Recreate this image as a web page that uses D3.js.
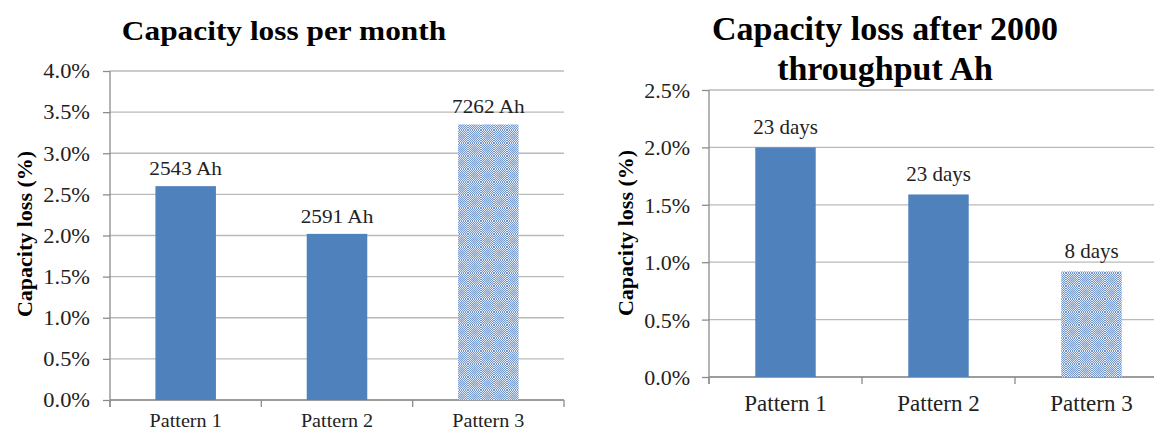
<!DOCTYPE html>
<html>
<head>
<meta charset="utf-8">
<script src="https://cdn.jsdelivr.net/npm/d3@7"></script>
<style>
  html, body { margin: 0; padding: 0; background: #fff; }
  svg { display: block; font-family: "Liberation Serif", "Times New Roman", serif; }
  svg text { font-family: "Liberation Serif", "Times New Roman", serif; }
</style>
</head>
<body>
<svg id="chart" width="1154" height="432"></svg>
<script>
// ---- Data ----
const categories = ["Pattern 1", "Pattern 2", "Pattern 3"];
const lossPerMonth = [2.60, 2.02, 3.35];          // %
const throughputLabels = ["2543 Ah", "2591 Ah", "7262 Ah"];
const lossAfter2000 = [2.00, 1.59, 0.92];          // %
const dayLabels = ["23 days", "23 days", "8 days"];
const leftTicks = [0, 0.5, 1.0, 1.5, 2.0, 2.5, 3.0, 3.5, 4.0];
const rightTicks = [0, 0.5, 1.0, 1.5, 2.0, 2.5];
const patternedIndex = [2];

const svg = d3.select("#chart");
const BLUE = "#4f81bd";

// pattern for third bar
const defs = svg.append("defs");
const chk = defs.append("pattern").attr("id", "chk").attr("width", 2).attr("height", 2)
  .attr("patternUnits", "userSpaceOnUse");
chk.append("rect").attr("width", 2).attr("height", 2).attr("fill", "#e2eaf5");
chk.append("rect").attr("width", 1).attr("height", 1).attr("fill", "#7396ca");
chk.append("rect").attr("x", 1).attr("y", 1).attr("width", 1).attr("height", 1).attr("fill", "#7396ca");
const dots = defs.append("pattern").attr("id", "dots").attr("width", 13).attr("height", 13)
  .attr("patternUnits", "userSpaceOnUse");
dots.append("rect").attr("width", 13).attr("height", 13).attr("fill", "url(#chk)");
dots.append("circle").attr("cx", 6.5).attr("cy", 6.5).attr("r", 3.2).attr("fill", "#9ab3db").attr("opacity", 0.6);

const clip = defs.append("clipPath").attr("id", "pageclip");
clip.append("rect").attr("width", 1154).attr("height", 432);

function drawChart(cfg) {
  const sx = cfg.stretch;
  const g = svg.append("g").attr("clip-path", "url(#pageclip)");
  const x = d3.scaleBand().domain(categories).range([cfg.x0, cfg.x1]).paddingInner(0).paddingOuter(0);
  const y = d3.scaleLinear().domain([0, d3.max(cfg.ticks)]).range([cfg.y0, cfg.y1]);

  // gridlines
  g.append("g").selectAll("line").data(cfg.ticks).join("line")
    .attr("x1", cfg.x0).attr("x2", cfg.x1)
    .attr("y1", d => y(d)).attr("y2", d => y(d))
    .attr("stroke", "#bababa").attr("stroke-width", 1.3);

  // y axis
  const yAxis = d3.axisLeft(y).tickValues(cfg.ticks).tickSize(cfg.tickLen).tickPadding(0)
    .tickFormat(d => d.toFixed(1) + "%");
  const ya = g.append("g").attr("transform", `translate(${cfg.x0},0)`).call(yAxis)
    .attr("font-family", null).attr("font-size", null);
  ya.select(".domain").attr("stroke", "#8c8c8c").attr("stroke-width", 1.3)
    .attr("d", `M0,${cfg.y1}V${cfg.y0 + cfg.tickLen}`);
  ya.selectAll(".tick line").attr("stroke", "#8c8c8c").attr("stroke-width", 1.3);
  ya.selectAll(".tick text").attr("fill", "#222").style("font-size", cfg.tickFont + "px")
    .attr("x", 0).attr("dy", "0.34em")
    .attr("transform", `translate(${cfg.labelRight - cfg.x0},0) scale(${sx},1)`);

  // x axis
  const xa = g.append("g");
  xa.append("line").attr("x1", cfg.x0).attr("x2", cfg.x1).attr("y1", cfg.y0).attr("y2", cfg.y0)
    .attr("stroke", "#8c8c8c").attr("stroke-width", 1.3);
  const bounds = categories.map(c => x(c)).concat([cfg.x1]);
  xa.selectAll("line.tk").data(bounds).join("line").attr("class", "tk")
    .attr("x1", d => d).attr("x2", d => d).attr("y1", cfg.y0).attr("y2", cfg.y0 + cfg.tickLen)
    .attr("stroke", "#8c8c8c").attr("stroke-width", 1.3);
  xa.selectAll("text").data(categories).join("text")
    .attr("transform", d => `translate(${x(d) + x.bandwidth() / 2},${cfg.catY}) scale(${sx},1)`)
    .attr("text-anchor", "middle").attr("fill", "#222")
    .style("font-size", cfg.catFont + "px").text(d => d);

  // bars
  const bw = x.bandwidth() * cfg.barFrac;
  g.append("g").selectAll("rect").data(cfg.values).join("rect")
    .attr("x", (d, i) => x(categories[i]) + (x.bandwidth() - bw) / 2)
    .attr("width", bw)
    .attr("y", d => y(d)).attr("height", d => cfg.y0 - y(d))
    .attr("fill", (d, i) => patternedIndex.includes(i) ? "url(#dots)" : BLUE);

  // data labels
  g.append("g").selectAll("text").data(cfg.values).join("text")
    .attr("transform", (d, i) => `translate(${x(categories[i]) + x.bandwidth() / 2},${y(d) - cfg.labelGap}) scale(${sx},1)`)
    .attr("text-anchor", "middle").attr("fill", "#222")
    .style("font-size", cfg.labelFont + "px")
    .text((d, i) => cfg.labels[i]);

  // y title
  g.append("text")
    .attr("transform", `translate(${cfg.yTitleX},${cfg.yTitleY}) rotate(-90)`)
    .attr("text-anchor", "middle").attr("fill", "#000")
    .style("font-size", cfg.yTitleFont + "px").style("font-weight", "bold")
    .text("Capacity loss (%)");

  // chart title
  cfg.title.forEach((line, i) => {
    g.append("text").attr("text-anchor", "middle").attr("fill", "#000")
      .style("font-size", cfg.titleFont + "px").style("font-weight", "bold")
      .attr("transform", `translate(${cfg.titleX},${cfg.titleY + i * cfg.titleLH}) scale(${sx},1)`)
      .text(line);
  });
}

drawChart({
  x0: 110, x1: 564, y0: 400, y1: 71, stretch: 1.12, tickLen: 7, labelRight: 90,
  ticks: leftTicks, values: lossPerMonth, labels: throughputLabels,
  barFrac: 0.4, tickFont: 20, catFont: 18, catY: 427, labelFont: 19, labelGap: 11,
  yTitleX: 32, yTitleY: 234, yTitleFont: 22,
  title: ["Capacity loss per month"], titleX: 284, titleY: 40, titleFont: 28, titleLH: 0
});

drawChart({
  x0: 709, x1: 1168, y0: 377, y1: 90, stretch: 1.0, tickLen: 7, labelRight: 690,
  ticks: rightTicks, values: lossAfter2000, labels: dayLabels,
  barFrac: 0.395, tickFont: 22, catFont: 23, catY: 411, labelFont: 21, labelGap: 13,
  yTitleX: 633, yTitleY: 233, yTitleFont: 22,
  title: ["Capacity loss after 2000", "throughput Ah"], titleX: 885, titleY: 40, titleFont: 34, titleLH: 40
});
</script>
</body>
</html>
